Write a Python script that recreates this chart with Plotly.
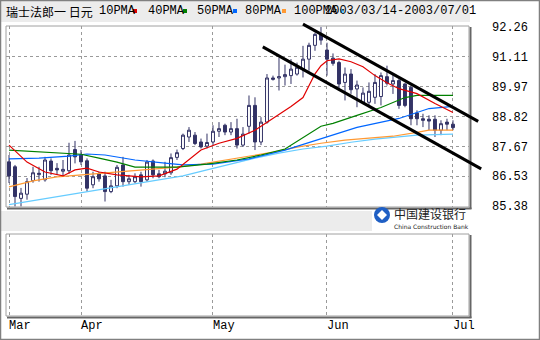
import plotly.graph_objects as go

# ---------------- data ----------------
idx = list(range(75))
opens = [87.08, 86.89, 85.68, 85.84, 86.36, 86.59, 86.39, 87.11, 86.83, 86.72,
         86.74, 87.55, 87.34, 87.12, 86.20, 86.62, 86.54, 85.94, 86.16, 86.96,
         86.32, 86.32, 86.58, 86.39, 87.11, 86.62, 86.62, 86.66, 87.25, 87.59,
         88.03, 88.10, 87.84, 87.68, 87.84, 88.25, 88.48, 88.22, 88.35, 87.72,
         88.44, 89.24, 87.84, 88.60, 90.29, 90.29, 90.34, 90.38, 90.44, 90.63,
         91.01, 91.54, 91.94, 91.36, 91.05, 90.88, 90.12, 90.44, 89.87, 89.36,
         89.36, 89.55, 89.58, 90.34, 90.06, 90.19, 90.06, 89.93, 88.95, 88.73,
         88.71, 88.71, 88.29, 88.60, 88.52]
closes = [86.54, 85.75, 85.88, 86.32, 86.66, 86.64, 87.15, 86.74, 86.77, 86.79,
          87.34, 87.27, 87.08, 86.07, 86.51, 86.43, 85.94, 86.16, 86.87, 86.32,
          86.43, 86.51, 86.32, 87.07, 86.58, 86.51, 86.72, 87.24, 87.43, 88.10,
          88.29, 87.78, 87.65, 87.82, 88.25, 88.35, 88.22, 88.35, 87.72, 88.14,
          89.24, 87.84, 88.60, 90.29, 90.24, 90.34, 90.42, 90.63, 90.70, 91.01,
          91.54, 91.96, 91.74, 91.01, 90.85, 90.06, 90.44, 89.84, 90.02, 89.71,
          89.78, 90.12, 90.38, 90.09, 90.19, 89.24, 89.24, 88.73, 88.73, 88.67,
          88.64, 88.29, 88.54, 88.52, 88.39]
highs = [87.34, 86.96, 86.08, 86.46, 86.89, 86.89, 87.27, 87.21, 87.03, 87.15,
         87.81, 87.88, 87.53, 87.21, 86.70, 86.70, 86.70, 86.39, 86.96, 87.27,
         86.58, 86.64, 86.70, 87.15, 87.17, 86.77, 87.08, 87.40, 87.55, 88.16,
         88.41, 88.22, 87.97, 88.16, 88.48, 88.60, 88.54, 88.60, 88.73, 88.41,
         89.62, 89.55, 88.79, 90.44, 90.38, 91.07, 90.80, 91.01, 90.88, 91.52,
         91.64, 92.02, 92.24, 91.64, 91.23, 90.95, 90.69, 90.63, 90.19, 89.93,
         90.12, 90.44, 90.50, 90.76, 90.44, 90.25, 90.09, 90.00, 89.05, 88.92,
         88.86, 88.86, 88.67, 88.73, 88.67]
lows = [86.27, 85.37, 85.37, 85.63, 86.28, 86.32, 86.32, 86.58, 86.58, 86.51,
        86.62, 87.02, 86.96, 85.94, 86.07, 86.32, 85.56, 85.88, 86.07, 86.13,
        86.20, 86.26, 86.13, 86.32, 86.45, 86.45, 86.49, 86.58, 87.15, 87.53,
        87.84, 87.72, 87.59, 87.59, 87.72, 88.03, 88.10, 88.10, 87.59, 87.65,
        88.16, 87.53, 87.72, 88.54, 90.19, 89.81, 90.00, 90.06, 90.38, 90.31,
        90.57, 91.33, 91.56, 90.38, 90.76, 89.81, 89.43, 89.68, 89.17, 89.30,
        89.24, 89.30, 89.24, 90.00, 89.68, 89.11, 89.17, 88.48, 88.48, 88.41,
        88.29, 88.03, 88.10, 88.29, 88.29]

ma10_x = [0, 3, 6, 9, 11, 13, 15, 18, 22, 25, 28, 30, 32, 35, 38, 41, 43, 45, 47,
          49, 50, 51, 52, 53, 55, 57, 59, 61, 63, 65, 68, 71, 74]
ma10_y = [87.72, 87.07, 86.69, 86.54, 86.77, 86.84, 86.69, 86.58, 86.50, 86.54,
          86.80, 87.15, 87.53, 87.79, 87.98, 88.29, 88.59, 88.90, 89.20, 89.54,
          90.00, 90.45, 90.76, 90.95, 91.02, 90.91, 90.72, 90.38, 90.11, 89.88,
          89.69, 89.31, 88.97]
ma40_x = [0, 6, 12, 15, 18, 21, 28, 33, 38, 42, 46, 52, 54, 58, 62, 66, 68, 74]
ma40_y = [87.53, 87.45, 87.37, 87.22, 87.07, 86.88, 86.88, 86.99, 87.15, 87.34,
          87.57, 88.44, 88.55, 88.86, 89.16, 89.54, 89.62, 89.62]
ma50_x = [0, 5, 10, 13, 16, 21, 26, 29, 34, 40, 46, 52, 54, 58, 65, 70, 74]
ma50_y = [87.19, 87.22, 87.30, 87.38, 87.34, 87.15, 87.03, 86.96, 86.99, 87.19,
          87.53, 87.98, 88.10, 88.40, 88.74, 89.12, 89.20]
ma80_x = [0, 4, 8, 12, 16, 20, 24, 28, 32, 36, 40, 44, 48, 52, 56, 60, 64, 68, 70, 74]
ma80_y = [86.12, 86.35, 86.50, 86.58, 86.65, 86.73, 86.80, 86.88, 86.99, 87.15,
          87.30, 87.45, 87.64, 87.79, 87.91, 87.98, 88.06, 88.21, 88.29, 88.29]
ma100_x = [0, 5, 10, 15, 20, 25, 29, 33, 37, 41, 45, 49, 53, 57, 61, 65, 68, 74]
ma100_y = [85.44, 85.63, 85.82, 86.01, 86.20, 86.39, 86.54, 86.77, 86.99, 87.22,
           87.41, 87.57, 87.68, 87.83, 87.95, 88.02, 88.10, 88.14]

# trend channel (index, price) endpoints
upper_line = [(49.0, 92.35), (78.2, 88.63)]
lower_line = [(42.3, 91.48), (78.7, 86.81)]

month_pos = [0, 12, 34, 53, 74]
month_lbl = ["Mar", "Apr", "May", "Jun", "Jul"]
price_ticks = [92.26, 91.11, 89.97, 88.82, 87.67, 86.53, 85.38]

ma_names = ["10PMA", "40PMA", "50PMA", "80PMA", "100PMA"]
ma_colors = ["#e00000", "#008000", "#0066ff", "#ff9933", "#66ccff"]
title = "瑞士法郎一 日元"
date_range = "2003/03/14-2003/07/01"

# ---------------- geometry ----------------
W, H = 540, 340
ML, MR, MT, MB = 6, 71, 26, 24
PW, PH = W - ML - MR, H - MT - MB
XR = [-0.5, 76.67]
YR = [85.35, 92.28]


def px(x):
    return (x - ML) / PW


def py(y):
    return (H - MB - y) / PH


main_dom = [py(207), 1.0]
low_dom = [0.0, py(234)]

NAVY = "#333366"
GRID = "#9a9a9a"
MONO = "Liberation Mono"

fig = go.Figure()
fig.add_trace(go.Candlestick(
    x=idx, open=opens, high=highs, low=lows, close=closes,
    increasing=dict(line=dict(color=NAVY, width=1), fillcolor="white"),
    decreasing=dict(line=dict(color=NAVY, width=1), fillcolor=NAVY),
    whiskerwidth=0, xaxis="x", yaxis="y", showlegend=False, hoverinfo="skip"))

for xs, ys, c in [(ma100_x, ma100_y, ma_colors[4]), (ma80_x, ma80_y, ma_colors[3]),
                  (ma50_x, ma50_y, ma_colors[2]), (ma40_x, ma40_y, ma_colors[1]),
                  (ma10_x, ma10_y, ma_colors[0])]:
    fig.add_trace(go.Scatter(x=xs, y=ys, mode="lines", line=dict(color=c, width=1.2),
                             xaxis="x", yaxis="y", showlegend=False, hoverinfo="skip"))

fig.add_trace(go.Scatter(x=[None], y=[None], xaxis="x2", yaxis="y2",
                         showlegend=False, hoverinfo="skip"))

shapes = []
# header band and lower grey band
shapes.append(dict(type="rect", xref="paper", yref="paper", x0=px(1), x1=px(470),
                   y0=py(22), y1=py(1), fillcolor="#ececec", line=dict(width=0), layer="below"))
shapes.append(dict(type="rect", xref="paper", yref="paper", x0=px(1), x1=px(372),
                   y0=py(231), y1=py(211), fillcolor="#ececec", line=dict(width=0), layer="below"))
# panel boxes with shadow
for top, bot in [(26, 207), (234, 316)]:
    shapes.append(dict(type="line", xref="paper", yref="paper", x0=px(470.5), x1=px(470.5),
                       y0=py(bot + 2), y1=py(top + 1), line=dict(color="#666666", width=2)))
    shapes.append(dict(type="line", xref="paper", yref="paper", x0=px(7), x1=px(471.5),
                       y0=py(bot + 1.5), y1=py(bot + 1.5), line=dict(color="#666666", width=2)))
    shapes.append(dict(type="rect", xref="paper", yref="paper", x0=px(6), x1=px(469),
                       y0=py(bot), y1=py(top), line=dict(color="#a0a0a0", width=1)))
# trend channel lines (data units converted through axis domain fraction)


def dx(v):
    return (v - XR[0]) / (XR[1] - XR[0])


def dy(v):
    return (v - YR[0]) / (YR[1] - YR[0])


for (xa, ya), (xb, yb) in [upper_line, lower_line]:
    shapes.append(dict(type="line", xref="x domain", yref="y domain",
                       x0=dx(xa), y0=dy(ya), x1=dx(xb), y1=dy(yb),
                       line=dict(color="black", width=3)))
# outer frame
shapes.append(dict(type="rect", xref="paper", yref="paper", x0=px(0.5), x1=px(539.5),
                   y0=py(339.5), y1=py(0.5), line=dict(color="#808080", width=1.5)))

annotations = []
annotations.append(dict(text=title, xref="paper", yref="paper", x=px(4), y=py(11),
                        xanchor="left", yanchor="middle", showarrow=False,
                        font=dict(family="Noto Sans CJK SC", size=12, color="black")))
leg_x = [98, 147, 196, 244, 293]
sq_x = [133, 183, 233, 282, 340]
for name, c, lx, sx in zip(ma_names, ma_colors, leg_x, sq_x):
    annotations.append(dict(text=name, xref="paper", yref="paper", x=px(lx - 1), y=py(11),
                            xanchor="left", yanchor="middle", showarrow=False,
                            font=dict(family=MONO, size=12, color="black")))
    shapes.append(dict(type="rect", xref="paper", yref="paper", x0=px(sx), x1=px(sx + 4),
                       y0=py(13), y1=py(9), fillcolor=c, line=dict(width=0)))
annotations.append(dict(text=date_range, xref="paper", yref="paper", x=px(323), y=py(11),
                        xanchor="left", yanchor="middle", showarrow=False,
                        font=dict(family=MONO, size=12, color="black")))
# logo
shapes.append(dict(type="circle", xref="paper", yref="paper", x0=px(374), x1=px(390),
                   y0=py(223), y1=py(207), fillcolor="#1f5fc4", line=dict(width=0)))
shapes.append(dict(type="path", xref="paper", yref="paper",
                   path=f"M {px(382)},{py(210)} L {px(387)},{py(215)} L {px(382)},{py(220)} L {px(377)},{py(215)} Z",
                   fillcolor="white", line=dict(width=0)))
annotations.append(dict(text="中国建设银行", xref="paper", yref="paper", x=px(392), y=py(213.5),
                        xanchor="left", yanchor="middle", showarrow=False,
                        font=dict(family="Noto Sans CJK SC", size=12, color="#222222")))
annotations.append(dict(text="China Construction Bank", xref="paper", yref="paper", x=px(392),
                        y=py(226.5), xanchor="left", yanchor="middle", showarrow=False,
                        font=dict(family="DejaVu Sans", size=6, color="#222222")))

fig.update_layout(
    width=W, height=H, margin=dict(l=ML, r=MR, t=MT, b=MB),
    paper_bgcolor="white", plot_bgcolor="white", boxgap=0.3,
    showlegend=False, shapes=shapes, annotations=annotations,
    xaxis=dict(domain=[0, 1], range=XR, anchor="y", tickvals=month_pos,
               showticklabels=False, ticks="", showgrid=True, gridcolor=GRID,
               griddash="3px,3px", gridwidth=1, zeroline=False, rangeslider=dict(visible=False)),
    yaxis=dict(domain=main_dom, range=YR, side="right", anchor="x", tickvals=price_ticks,
               ticktext=[f"{v:.2f}" for v in price_ticks], ticks="", showgrid=True,
               gridcolor=GRID, griddash="3px,3px", zeroline=False, ticklabelstandoff=22,
               tickfont=dict(family=MONO, size=12, color="black")),
    xaxis2=dict(domain=[0, 1], range=XR, anchor="y2", tickvals=month_pos, ticktext=month_lbl,
                ticks="", showgrid=True, gridcolor=GRID, griddash="3px,3px", zeroline=False,
                ticklabelposition="outside right",
                tickfont=dict(family=MONO, size=12, color="black")),
    yaxis2=dict(domain=low_dom, range=[0, 1], anchor="x2", showticklabels=False,
                showgrid=False, zeroline=False, ticks=""),
)

fig.write_html("out.html")
